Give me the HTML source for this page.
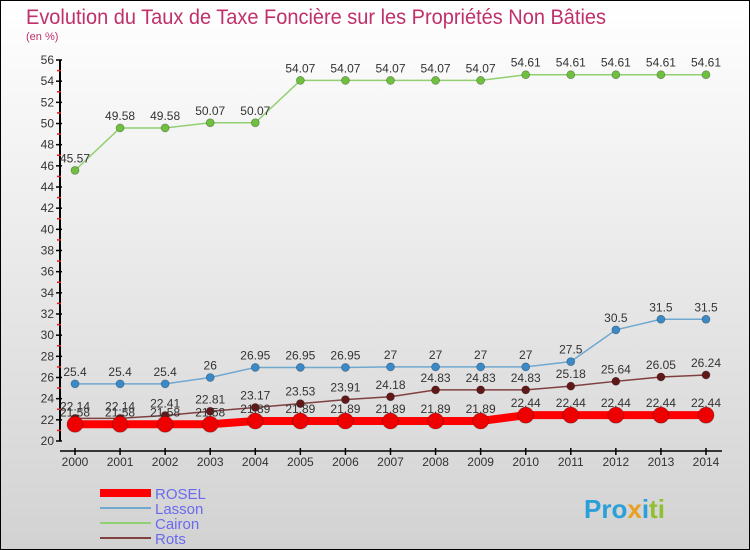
<!DOCTYPE html>
<html><head><meta charset="utf-8"><style>
html,body{margin:0;padding:0}
body{width:750px;height:550px;overflow:hidden;font-family:"Liberation Sans",sans-serif}
svg{display:block}
</style></head><body>
<svg width="750" height="550" id="c">
<defs><linearGradient id="bg" x1="0" y1="0" x2="0" y2="1"><stop offset="0" stop-color="#ffffff"/><stop offset="1" stop-color="#d2d2d2"/></linearGradient></defs>
<rect x="0.5" y="0.5" width="749" height="549" fill="url(#bg)" stroke="#000"/>
<text x="26" y="24" font-size="21" textLength="580" lengthAdjust="spacingAndGlyphs" fill="#c0306a">Evolution du Taux de Taxe Foncière sur les Propriétés Non Bâties</text>
<text x="26" y="40" font-size="11" fill="#c0306a">(en %)</text>
<g id="axes"></g><g id="series"></g><g id="legend"></g>
<text x="584" y="518" font-size="26" font-weight="bold" fill="#2a9fd8">Pro<tspan fill="#e8a020">x</tspan><tspan fill="#2a9fd8">i</tspan><tspan fill="#90c030">ti</tspan></text>
</svg>
<script>
const years=[2000,2001,2002,2003,2004,2005,2006,2007,2008,2009,2010,2011,2012,2013,2014];
const rosel=[21.58,21.58,21.58,21.58,21.89,21.89,21.89,21.89,21.89,21.89,22.44,22.44,22.44,22.44,22.44];
const lasson=[25.4,25.4,25.4,26,26.95,26.95,26.95,27,27,27,27,27.5,30.5,31.5,31.5];
const cairon=[45.57,49.58,49.58,50.07,50.07,54.07,54.07,54.07,54.07,54.07,54.61,54.61,54.61,54.61,54.61];
const rots=[22.14,22.14,22.41,22.81,23.17,23.53,23.91,24.18,24.83,24.83,24.83,25.18,25.64,26.05,26.24];
const yTicks=[20,22,24,26,28,30,32,34,36,38,40,42,44,46,48,50,52,54,56];
const NS="http://www.w3.org/2000/svg";
const X=i=>75+i*(706-75)/(years.length-1);
const Y=v=>441-(v-20)*(441-60)/36;
function mk(p,t,a){const e=document.createElementNS(NS,t);for(const k in a)e.setAttribute(k,a[k]);p.appendChild(e);return e;}
const ax=document.getElementById('axes');
const yAxis=mk(ax,'line',{x1:60,y1:60,x2:60,y2:441,stroke:'#000','stroke-width':2});


yTicks.forEach(v=>{
  mk(ax,'line',{x1:56,x2:62,y1:Y(v),y2:Y(v),stroke:'#000','stroke-width':1.5});
  if(v<56) mk(ax,'line',{x1:57,x2:61,y1:Y(v+1),y2:Y(v+1),stroke:'#e02020','stroke-width':1.5});
  const t=mk(ax,'text',{x:54,y:Y(v)+4,'text-anchor':'end','font-size':12,fill:'#333'});
  t.textContent=v;
  
  
});
const xAxis=mk(ax,'line',{x1:60,y1:451,x2:722,y2:451,stroke:'#000','stroke-width':1.5});


years.forEach((y,i)=>{
  mk(ax,'line',{x1:X(i),x2:X(i),y1:448,y2:455,stroke:'#000','stroke-width':1.5});
  const t=mk(ax,'text',{x:X(i),y:466,'text-anchor':'middle','font-size':12,fill:'#333'});
  t.textContent=y;
  
  
});
const sg=document.getElementById('series');
function series(name,data,color,w,r,dot){
  const g=mk(sg,'g',{});
  
  
  mk(g,'polyline',{points:data.map((v,i)=>X(i)+','+Y(v)).join(' '),fill:'none',stroke:color,'stroke-width':w,'stroke-linejoin':'round'});
  data.forEach((v,i)=>{
    const c=mk(g,'circle',{cx:X(i),cy:Y(v),r:r,fill:dot,stroke:'rgba(0,0,0,0.3)','stroke-width':0.8});
    
    
    const t=mk(g,'text',{x:X(i),y:Y(v)-8,'text-anchor':'middle','font-size':12,fill:'#333'});
    t.textContent=v;
    
    
  });
}
series('cairon',cairon,'#90d070',1.5,4,'#70c040');
series('lasson',lasson,'#70a8d0',1.5,4,'#3a8ac8');
series('rots',rots,'#804040',1.5,4,'#601818');
series('rosel',rosel,'#ff0000',8,8,'#ee0000');
const lg=document.getElementById('legend');
const items=[['ROSEL','#ff0000',8],['Lasson','#70a8d0',2],['Cairon','#90d070',2],['Rots','#804040',2]];
items.forEach((it,k)=>{
  const y=493+k*15;
  const g=mk(lg,'g',{});
  
  
  mk(g,'line',{x1:100,x2:151,y1:y,y2:y,stroke:it[1],'stroke-width':it[2]});
  const t=mk(g,'text',{x:155,y:y+6,'font-size':15,fill:'#6a6aee'});
  t.textContent=it[0];
});
</script>
</body></html>
